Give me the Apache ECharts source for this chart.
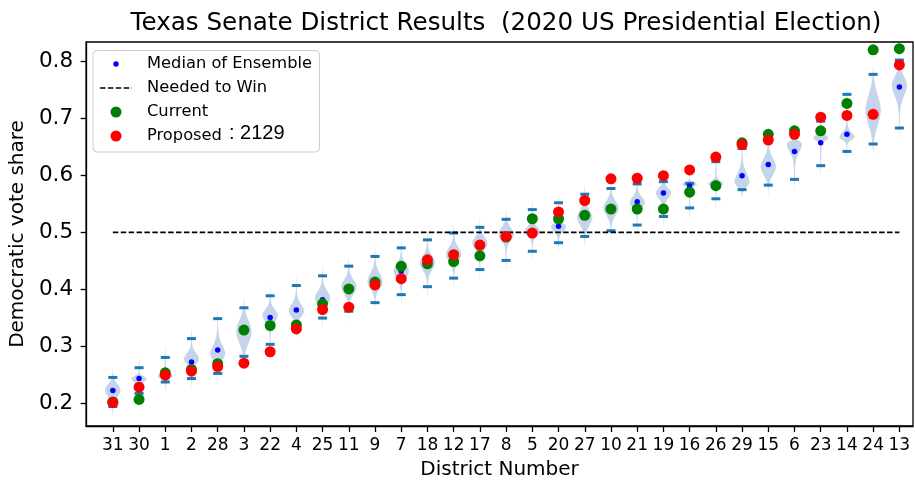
<!DOCTYPE html>
<html>
<head>
<meta charset="utf-8">
<script src="https://cdn.jsdelivr.net/npm/echarts@6/dist/echarts.min.js"></script>
<style>
  html, body { margin: 0; padding: 0; background: #fff; }
  #chart { width: 915px; height: 485px; }
</style>
</head>
<body>
<div id="chart"></div>
<script>
// District order along the x axis
const districts = ['31','30','1','2','28','3','22','4','25','11','9','7','18','12','17','8',
                   '5','20','27','10','21','19','16','26','29','15','6','23','14','24','13'];

// Ensemble summary
const ensMedian = [0.223,0.244,0.252,0.273,0.294,0.328,0.351,0.364,0.382,0.402,0.410,0.432,0.447,0.457,0.473,0.492,
                   0.502,0.511,0.528,0.543,0.554,0.569,0.5815,0.586,0.5995,0.619,0.642,0.657,0.672,0.706,0.755];
const ensLow    = [0.195,0.218,0.238,0.244,0.253,0.283,0.304,0.333,0.350,0.362,0.377,0.391,0.405,0.420,0.435,0.451,
                   0.467,0.482,0.493,0.503,0.513,0.528,0.543,0.559,0.575,0.583,0.593,0.617,0.642,0.655,0.683];
const ensHigh   = [0.246,0.263,0.281,0.314,0.349,0.368,0.389,0.407,0.424,0.441,0.458,0.473,0.487,0.499,0.509,0.523,
                   0.540,0.552,0.567,0.577,0.585,0.589,0.586,0.624,0.647,0.662,0.672,0.695,0.742,0.777,0.802];

// Violin shape: where each body is widest and how far it spreads below / above
const ensMode     = [0.224,0.244,0.248,0.278,0.287,0.327,0.355,0.362,0.385,0.405,0.414,0.432,0.4465,0.462,0.482,0.496,
                     0.502,0.510,0.527,0.5425,0.552,0.570,0.585,0.585,0.588,0.615,0.655,0.665,0.667,0.714,0.758];
const ensSpreadLo = [0.012,0.006,0.004,0.008,0.010,0.020,0.012,0.010,0.012,0.012,0.012,0.012,0.012,0.013,0.012,0.010,
                     0.008,0.008,0.014,0.012,0.008,0.010,0.004,0.004,0.008,0.014,0.014,0.004,0.005,0.025,0.018];
const ensSpreadHi = [0.010,0.004,0.006,0.010,0.015,0.018,0.010,0.012,0.012,0.012,0.014,0.012,0.012,0.012,0.010,0.012,
                     0.008,0.006,0.012,0.012,0.010,0.008,0.003,0.005,0.015,0.014,0.005,0.006,0.008,0.025,0.015];

// Plans
const current  = [0.203,0.2075,0.254,0.260,0.270,0.329,0.337,0.338,0.375,0.401,0.413,0.441,0.445,0.449,0.459,0.492,
                  0.524,0.524,0.530,0.541,0.541,0.541,0.5705,0.582,0.657,0.672,0.678,0.678,0.726,0.820,0.822];
const proposed = [0.202,0.229,0.250,0.257,0.265,0.271,0.291,0.331,0.365,0.369,0.408,0.419,0.452,0.461,0.478,0.493,
                  0.499,0.536,0.556,0.594,0.595,0.5995,0.6095,0.632,0.654,0.662,0.672,0.702,0.705,0.707,0.7935];

const needed = 0.5;
const yTicks = [0.2, 0.3, 0.4, 0.5, 0.6, 0.7, 0.8];

const positions = districts.map((d, i) => i + 1);
const FONT = 'DejaVu Sans';

function renderViolin(params, api) {
  const x = api.value(0), m = api.value(1), sLo = api.value(2), sHi = api.value(3);
  const lo = api.value(4), hi = api.value(5);
  const unit = api.size([1, 0])[0];
  const left = [], right = [];
  const n = 80;
  for (let k = 0; k <= n; k++) {
    const v = lo + (hi - lo) * k / n;
    const z = (v - m) / (v < m ? sLo : sHi);
    const w = (0.265 * Math.exp(-0.5 * z * z) + 0.025 * Math.sin(Math.PI * k / n)) * unit;
    const p = api.coord([x, v]);
    left.push([p[0] - w, p[1]]);
    right.unshift([p[0] + w, p[1]]);
  }
  return {
    type: 'polygon',
    shape: { points: left.concat(right) },
    style: { fill: '#c5d4ea' }
  };
}

const chart = echarts.init(document.getElementById('chart'), null, { renderer: 'canvas' });

chart.setOption({
  animation: false,
  textStyle: { fontFamily: FONT, color: '#000' },
  title: {
    text: 'Texas Senate District Results  (2020 US Presidential Election)',
    left: 501,
    textAlign: 'center',
    top: 6,
    textStyle: { fontFamily: FONT, fontSize: 24.6, fontWeight: 'normal', color: '#000' }
  },
  grid: {
    left: 85, right: 2, top: 42, bottom: 58,
    show: true, borderColor: '#000', borderWidth: 1.3, backgroundColor: 'transparent'
  },
  xAxis: {
    type: 'value',
    min: -0.02,
    max: 31.52,
    name: 'District Number',
    nameLocation: 'middle',
    nameGap: 34,
    nameTextStyle: { fontFamily: FONT, fontSize: 20, color: '#000' },
    axisLine: { lineStyle: { color: '#000', width: 1.3 } },
    axisTick: { show: true, length: 6, lineStyle: { color: '#000', width: 1.3 }, customValues: positions },
    axisLabel: {
      customValues: positions,
      formatter: v => districts[Math.round(v) - 1],
      fontFamily: FONT, fontSize: 17, color: '#000', margin: 11
    },
    splitLine: { show: false }
  },
  yAxis: {
    type: 'value',
    min: 0.1609,
    max: 0.8337,
    name: 'Democratic vote share',
    nameLocation: 'middle',
    nameGap: 53,
    nameTextStyle: { fontFamily: FONT, fontSize: 20, color: '#000' },
    axisLine: { show: true, lineStyle: { color: '#000', width: 1.3 } },
    axisTick: { show: true, length: 6, lineStyle: { color: '#000', width: 1.3 }, customValues: yTicks },
    axisLabel: {
      customValues: yTicks,
      formatter: v => v.toFixed(1),
      fontFamily: FONT, fontSize: 21.5, color: '#000', margin: 13
    },
    splitLine: { show: false }
  },
  series: [
    {
      name: 'Ensemble',
      type: 'custom',
      renderItem: renderViolin,
      data: positions.map((x, i) => [x, ensMode[i], ensSpreadLo[i], ensSpreadHi[i], ensLow[i] - 0.02, ensHigh[i] + 0.02]),
      z: 1
    },
    {
      name: 'Range',
      type: 'scatter',
      symbol: 'rect',
      symbolSize: [9, 3],
      itemStyle: { color: '#1f77b4', opacity: 1 },
      data: positions.map((x, i) => [x, ensLow[i]]).concat(positions.map((x, i) => [x, ensHigh[i]])),
      z: 2
    },
    {
      name: 'Median of Ensemble',
      type: 'scatter',
      symbolSize: 5.5,
      itemStyle: { color: '#0000ff', opacity: 1 },
      data: positions.map((x, i) => [x, ensMedian[i]]),
      z: 3
    },
    {
      name: 'Needed to Win',
      type: 'line',
      symbol: 'none',
      lineStyle: { color: '#000', width: 1.7, type: [5.5, 2.4] },
      data: [[positions[0], needed], [positions[positions.length - 1], needed]],
      z: 4
    },
    {
      name: 'Current',
      type: 'scatter',
      symbolSize: 11,
      itemStyle: { color: '#008000', opacity: 1 },
      data: positions.map((x, i) => [x, current[i]]),
      z: 5
    },
    {
      name: 'Proposed',
      type: 'scatter',
      symbolSize: 11,
      itemStyle: { color: '#ff0000', opacity: 1 },
      data: positions.map((x, i) => [x, proposed[i]]),
      z: 6
    }
  ],
  // legend box drawn by hand to match the matplotlib layout
  graphic: [
    {
      type: 'rect', left: 92.5, top: 50, z: 100,
      shape: { width: 226.5, height: 101.5, r: 4 },
      style: { fill: 'rgba(255,255,255,0.85)', stroke: '#cccccc', lineWidth: 1 }
    },
    { type: 'circle', x: 116, y: 64, z: 101, shape: { r: 2.7 }, style: { fill: '#0000ff' } },
    { type: 'line', z: 101, shape: { x1: 100, y1: 88, x2: 132, y2: 88 },
      style: { stroke: '#000', lineWidth: 1.7, lineDash: [5.5, 2.4] } },
    { type: 'circle', x: 116, y: 112, z: 101, shape: { r: 5.5 }, style: { fill: '#008000' } },
    { type: 'circle', x: 116, y: 136, z: 101, shape: { r: 5.5 }, style: { fill: '#ff0000' } },
    { type: 'text', x: 147, y: 64, z: 101,
      style: { text: 'Median of Ensemble', font: '16.3px "DejaVu Sans"', fill: '#000', verticalAlign: 'middle' } },
    { type: 'text', x: 147, y: 88, z: 101,
      style: { text: 'Needed to Win', font: '16.3px "DejaVu Sans"', fill: '#000', verticalAlign: 'middle' } },
    { type: 'text', x: 147, y: 112, z: 101,
      style: { text: 'Current', font: '16.3px "DejaVu Sans"', fill: '#000', verticalAlign: 'middle' } },
    { type: 'text', x: 147, y: 136, z: 101,
      style: { text: 'Proposed', font: '16.3px "DejaVu Sans"', fill: '#000', verticalAlign: 'middle' } },
    { type: 'text', x: 229, y: 133, z: 101,
      style: { text: ': 2129', font: '20px "Liberation Sans"', fill: '#000', verticalAlign: 'middle' } }
  ]
});
</script>
</body>
</html>
